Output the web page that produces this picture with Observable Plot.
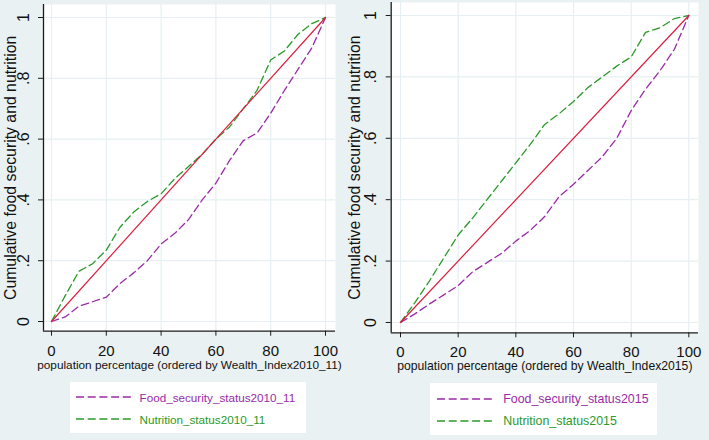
<!DOCTYPE html>
<html>
<head>
<meta charset="utf-8">
<script src="https://cdn.jsdelivr.net/npm/d3@7"></script>
<script src="https://cdn.jsdelivr.net/npm/@observablehq/plot@0.6"></script>
<style>
  html, body { margin: 0; padding: 0; }
  body { width: 709px; height: 440px; background: #eaf1f3; position: relative; overflow: hidden;
         font-family: "Liberation Sans", Arial, sans-serif; }
  .panel { position: absolute; top: 0; }
  .legend { position: absolute; background: #fff; }
  .row { position: absolute; left: 0; display: flex; align-items: center; white-space: nowrap; }
  .row svg { display: block; }
</style>
</head>
<body>
<div id="p1" class="panel" style="left:0px;width:354px;"></div>
<div id="p2" class="panel" style="left:340px;width:369px;"></div>
<div id="leg1" class="legend" style="left:70px;top:382px;width:236px;height:51px;"></div>
<div id="leg2" class="legend" style="left:430px;top:383px;width:227px;height:52px;"></div>
<script>
// ---- data ----
const popPct = [0, 5, 10, 15, 20, 25, 30, 35, 40, 45, 50, 55, 60, 65, 70, 75, 80, 85, 90, 95, 100];
const food2010 = [0, 0.015, 0.05, 0.065, 0.08, 0.125, 0.16, 0.2, 0.255, 0.29, 0.335, 0.40, 0.455, 0.53, 0.595, 0.62, 0.685, 0.76, 0.83, 0.90, 1];
const nutr2010 = [0, 0.085, 0.165, 0.19, 0.235, 0.31, 0.36, 0.395, 0.42, 0.47, 0.51, 0.55, 0.60, 0.64, 0.70, 0.76, 0.86, 0.89, 0.945, 0.98, 1];
const food2015 = [0, 0.028, 0.06, 0.09, 0.12, 0.165, 0.195, 0.225, 0.265, 0.30, 0.345, 0.41, 0.45, 0.495, 0.54, 0.60, 0.69, 0.76, 0.82, 0.89, 1];
const nutr2015 = [0, 0.065, 0.135, 0.21, 0.285, 0.34, 0.40, 0.46, 0.52, 0.58, 0.645, 0.68, 0.72, 0.765, 0.80, 0.835, 0.865, 0.945, 0.96, 0.99, 1];
const equalX = [0, 100];
const equalY = [0, 1];
const xTicks = [0, 20, 40, 60, 80, 100];
const yTicks = [0, 0.2, 0.4, 0.6, 0.8, 1];
const yTickLabels = ["0", ".2", ".4", ".6", ".8", "1"];
const yTitle = "Cumulative food security and nutrition";
const xTitle2010 = "population percentage (ordered by Wealth_Index2010_11)";
const xTitle2015 = "population percentage (ordered by Wealth_Index2015)";
const legend2010 = ["Food_security_status2010_11", "Nutrition_status2010_11"];
const legend2015 = ["Food_security_status2015", "Nutrition_status2015"];

const PURPLE = "#9a2aa6";
const GREEN = "#2a9a2a";
const RED = "#dc1f3e";
const GRID = "#e6eff2";
const AXIS = "#1c1c1c";
const DASH = "7.5,4";

function rows(ys) { return popPct.map((x, i) => ({x, y: ys[i]})); }

function panel(o) {
  return Plot.plot({
    width: o.width, height: o.height,
    marginLeft: o.ml, marginRight: o.mr, marginTop: o.mt, marginBottom: o.mb,
    x: {domain: o.xdom},
    y: {domain: o.ydom},
    style: {background: "transparent", overflow: "visible", fontFamily: "'Liberation Sans', Arial, sans-serif", color: "#111"},
    marks: [
      Plot.frame({fill: "white", stroke: null}),
      Plot.gridX(xTicks, {stroke: GRID, strokeOpacity: 1, strokeWidth: 1.2}),
      Plot.gridY(yTicks, {stroke: GRID, strokeOpacity: 1, strokeWidth: 1.2}),
      Plot.ruleX([o.xdom[0]], {stroke: AXIS, strokeWidth: 1.3}),
      Plot.ruleY([o.ydom[0]], {stroke: AXIS, strokeWidth: 1.3}),
      Plot.axisX(xTicks, {tickSize: 5, tickPadding: 9, fontSize: 15, label: null, stroke: AXIS, fill: "#111"}),
      Plot.axisY(yTicks, {tickSize: 5, tickPadding: o.ytp, tickRotate: -90, fontSize: 16, label: null,
        tickFormat: d => yTickLabels[yTicks.indexOf(d)], stroke: AXIS, fill: "#111"}),
      Plot.text([yTitle], {frameAnchor: "left", rotate: -90, dx: o.ytdx, fontSize: 15.8, fill: "#111", textAnchor: "middle", lineAnchor: "middle"}),
      Plot.text([o.xTitle], {frameAnchor: "bottom", dy: o.xtdy, lineAnchor: "middle", textAnchor: "middle", fontSize: o.xtfs, fill: "#111"}),
      Plot.line(rows(o.food), {x: "x", y: "y", stroke: PURPLE, strokeWidth: 1.3, strokeDasharray: DASH}),
      Plot.line(rows(o.nutr), {x: "x", y: "y", stroke: GREEN, strokeWidth: 1.3, strokeDasharray: DASH}),
      Plot.line(equalX.map((x, i) => ({x, y: equalY[i]})), {x: "x", y: "y", stroke: RED, strokeWidth: 1.2})
    ]
  });
}

document.getElementById("p1").append(panel({
  width: 354, height: 380, ml: 43, mr: 19, mt: 4, mb: 49.3,
  xdom: [-2.92, 103.65], ydom: [-0.0319, 1.0428],
  ytp: 10, ytdx: -33, xtdy: 34.3, xtfs: 11.8,
  xTitle: xTitle2010, food: food2010, nutr: nutr2010
}));
document.getElementById("p2").append(panel({
  width: 369, height: 380, ml: 50.7, mr: 11, mt: 2, mb: 47.7,
  xdom: [-3.23, 103.36], ydom: [-0.0336, 1.0423],
  ytp: 10, ytdx: -36, xtdy: 33.5, xtfs: 12.2,
  xTitle: xTitle2015, food: food2015, nutr: nutr2015
}));

function legend(el, labels, o) {
  const colors = [PURPLE, GREEN];
  labels.forEach((lab, i) => {
    const r = document.createElement("div");
    r.className = "row";
    r.style.top = (o.rowY[i] - 9) + "px";
    r.style.height = "18px";
    r.style.left = o.sx + "px";
    r.innerHTML = `<svg width="${o.sw}" height="18"><line x1="0" y1="9" x2="${o.sw}" y2="9" stroke="${colors[i]}" stroke-width="1.4" stroke-dasharray="8,3.7"/></svg>` +
      `<span style="margin-left:${o.gap}px;color:${colors[i]};font-size:${o.fs}px;">${lab}</span>`;
    el.append(r);
  });
}
legend(document.getElementById("leg1"), legend2010, {rowY: [15, 37], sx: 6, sw: 55, gap: 8.5, fs: 11.7});
legend(document.getElementById("leg2"), legend2015, {rowY: [15.5, 37.5], sx: 6.7, sw: 57, gap: 9.5, fs: 12.4});
</script>
</body>
</html>
